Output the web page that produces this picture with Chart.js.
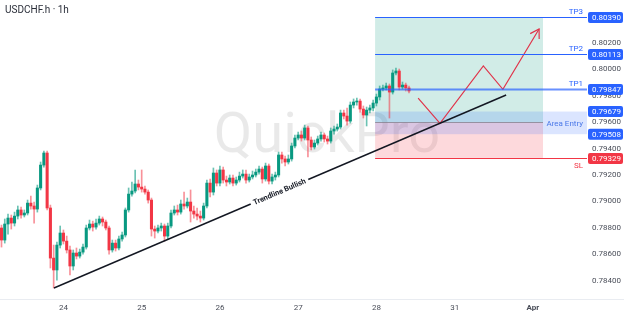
<!DOCTYPE html>
<html>
<head>
<meta charset="utf-8">
<script src="https://cdn.jsdelivr.net/npm/chart.js@4"></script>
<style>
  html, body { margin: 0; padding: 0; background: #fff; }
  #wrap { width: 624px; height: 316px; position: relative; }
</style>
</head>
<body>
<div id="wrap"><canvas id="chart"></canvas></div>
<script>
// ============================================================
// DATA  (USDCHF.h, 1h candles, index 0 = Fri 21 evening)
// ============================================================

const open = [
  0.78800,0.78709,0.78830,0.78875,0.78837,0.78890,0.78936,0.78898,0.78913,0.78988,
  0.78966,0.78943,0.79102,0.79275,0.79366,0.78951,0.78573,0.78483,0.78671,0.78762,
  0.78701,0.78634,0.78513,0.78611,0.78588,0.78618,0.78656,0.78800,0.78830,0.78807,
  0.78837,0.78868,0.78845,0.78800,0.78634,0.78686,0.78649,0.78717,0.78747,0.78936,
  0.79056,0.79079,0.79132,0.79109,0.79094,0.79071,0.79011,0.78792,0.78777,0.78800,
  0.78815,0.78739,0.78815,0.78913,0.78936,0.78920,0.78981,0.78966,0.78996,0.78928,
  0.78905,0.78890,0.78875,0.78966,0.79139,0.79071,0.79215,0.79139,0.79238,0.79162,
  0.79147,0.79177,0.79139,0.79162,0.79192,0.79207,0.79162,0.79185,0.79200,0.79222,
  0.79245,0.79170,0.79268,0.79154,0.79185,0.79200,0.79351,0.79321,0.79298,0.79321,
  0.79419,0.79479,0.79502,0.79479,0.79555,0.79464,0.79411,0.79441,0.79472,0.79502,
  0.79472,0.79456,0.79532,0.79547,0.79562,0.79668,0.79645,0.79607,0.79728,0.79751,
  0.79758,0.79698,0.79653,0.79690,0.79706,0.79743,0.79789,0.79849,0.79857,0.79872,
  0.79826,0.79970,0.79985,0.79864,0.79879,0.79857
];
const high = [
  0.78822,0.78868,0.78905,0.78898,0.78920,0.78966,0.78958,0.78936,0.79011,0.79041,
  0.78996,0.79124,0.79298,0.79381,0.79381,0.78973,0.78671,0.78694,0.78815,0.78785,
  0.78739,0.78664,0.78634,0.78649,0.78641,0.78679,0.78822,0.78860,0.78852,0.78868,
  0.78890,0.78883,0.78860,0.78815,0.78709,0.78709,0.78739,0.78769,0.78951,0.79102,
  0.79147,0.79238,0.79162,0.79238,0.79117,0.79087,0.79026,0.78815,0.78822,0.78837,
  0.78830,0.78837,0.78936,0.78966,0.78973,0.79011,0.79071,0.79026,0.79087,0.78966,
  0.78951,0.78928,0.78988,0.79162,0.79170,0.79253,0.79238,0.79268,0.79260,0.79192,
  0.79200,0.79200,0.79185,0.79222,0.79238,0.79238,0.79207,0.79230,0.79245,0.79268,
  0.79260,0.79290,0.79283,0.79207,0.79222,0.79373,0.79373,0.79343,0.79351,0.79441,
  0.79502,0.79524,0.79532,0.79577,0.79570,0.79487,0.79464,0.79494,0.79524,0.79517,
  0.79494,0.79555,0.79570,0.79585,0.79690,0.79690,0.79706,0.79751,0.79774,0.79781,
  0.79774,0.79721,0.79713,0.79728,0.79766,0.79811,0.79872,0.79879,0.79894,0.79887,
  0.79993,0.80008,0.80000,0.79902,0.79894,0.79872
];
const low = [
  0.78656,0.78686,0.78754,0.78792,0.78815,0.78868,0.78875,0.78883,0.78898,0.78943,
  0.78837,0.78920,0.79087,0.79260,0.78936,0.78498,0.78347,0.78407,0.78649,0.78679,
  0.78611,0.78445,0.78483,0.78566,0.78573,0.78603,0.78641,0.78785,0.78777,0.78792,
  0.78822,0.78815,0.78785,0.78603,0.78618,0.78626,0.78634,0.78701,0.78732,0.78920,
  0.79041,0.79064,0.79087,0.79071,0.79056,0.78988,0.78739,0.78724,0.78762,0.78777,
  0.78701,0.78717,0.78800,0.78898,0.78898,0.78905,0.78943,0.78951,0.78845,0.78875,
  0.78860,0.78845,0.78860,0.78951,0.79034,0.79049,0.79117,0.79117,0.79139,0.79117,
  0.79132,0.79117,0.79124,0.79147,0.79177,0.79139,0.79147,0.79170,0.79185,0.79207,
  0.79139,0.79154,0.79132,0.79132,0.79162,0.79185,0.79290,0.79268,0.79283,0.79305,
  0.79404,0.79464,0.79456,0.79464,0.79336,0.79389,0.79396,0.79426,0.79456,0.79449,
  0.79434,0.79441,0.79509,0.79532,0.79547,0.79623,0.79577,0.79592,0.79706,0.79728,
  0.79675,0.79630,0.79570,0.79668,0.79683,0.79721,0.79766,0.79834,0.79842,0.79630,
  0.79811,0.79955,0.79842,0.79849,0.79834,0.79819
];
const close = [
  0.78709,0.78830,0.78875,0.78837,0.78890,0.78936,0.78898,0.78913,0.78988,0.78966,
  0.78943,0.79102,0.79275,0.79366,0.78951,0.78573,0.78483,0.78671,0.78762,0.78701,
  0.78634,0.78513,0.78611,0.78588,0.78618,0.78656,0.78800,0.78830,0.78807,0.78837,
  0.78868,0.78845,0.78800,0.78634,0.78686,0.78649,0.78717,0.78747,0.78936,0.79056,
  0.79079,0.79132,0.79109,0.79094,0.79071,0.79011,0.78792,0.78777,0.78800,0.78815,
  0.78739,0.78815,0.78913,0.78936,0.78920,0.78981,0.78966,0.78996,0.78928,0.78905,
  0.78890,0.78875,0.78966,0.79139,0.79071,0.79215,0.79139,0.79238,0.79162,0.79147,
  0.79177,0.79139,0.79162,0.79192,0.79207,0.79162,0.79185,0.79200,0.79222,0.79245,
  0.79170,0.79268,0.79154,0.79185,0.79200,0.79351,0.79321,0.79298,0.79321,0.79419,
  0.79479,0.79502,0.79479,0.79555,0.79464,0.79411,0.79441,0.79472,0.79502,0.79472,
  0.79456,0.79532,0.79547,0.79562,0.79668,0.79645,0.79607,0.79728,0.79751,0.79758,
  0.79698,0.79653,0.79690,0.79706,0.79743,0.79789,0.79849,0.79857,0.79872,0.79826,
  0.79970,0.79985,0.79864,0.79879,0.79857,0.79834
];

// time axis: candle index of each day start
const dayTicks  = [19, 43, 67, 91, 115, 139, 163];
const dayLabels = ["24", "25", "26", "27", "28", "31", "Apr"];

const priceTicks = [0.784, 0.786, 0.788, 0.790, 0.792, 0.794, 0.796, 0.798, 0.800, 0.802];

// trade plan
const levelNames  = ["TP3", "TP2", "TP1", "SL"];
const levelPrices = [0.80390, 0.80113, 0.79847, 0.79329];
const entryPrice  = 0.79600;
const areaEntry   = [0.79508, 0.79679];
const zoneRange   = [114.6, 166.1];

const trendX = [16.1, 154.8];
const trendY = [0.78347, 0.79804];
const pathX  = [127.8, 134.5, 147.8, 153.8, 164.9];
const pathY  = [0.79781, 0.79590, 0.80023, 0.79847, 0.80302];


// ============================================================
// STYLE
// ============================================================

const UP   = "#089981";
const DOWN = "#f23645";
const BLUE = "#2962ff";

Chart.defaults.font.family = "Roboto, 'Noto Sans', sans-serif";
Chart.defaults.animation = false;

const isUp = close.map((c, i) => c >= open[i]);


// ============================================================
// OVERLAY PLUGIN
// ============================================================

function priceBox(ctx, a, py, price, color) {
  ctx.fillStyle = color;
  ctx.beginPath();
  ctx.roundRect(a.right + 1, py - 5.5, 35, 11, 2);
  ctx.fill();
  ctx.fillStyle = "#fff";
  ctx.font = "8px Roboto";
  ctx.textAlign = "left";
  ctx.textBaseline = "middle";
  ctx.fillText(price.toFixed(5), a.right + 5, py + 0.5);
}

const overlay = {
  id: "overlay",
  beforeDatasetsDraw(chart) {
    const { ctx, chartArea: a, scales: { x, y } } = chart;
    ctx.save();

    // watermark
    ctx.font = "56px Roboto";
    ctx.fillStyle = "rgba(0,0,0,0.085)";
    ctx.textAlign = "center";
    ctx.textBaseline = "alphabetic";
    ctx.fillText("QuickPro", 327, 152);

    // long position zones
    const zx0 = x.getPixelForValue(zoneRange[0]);
    const zx1 = x.getPixelForValue(zoneRange[1]);
    const yTop = y.getPixelForValue(levelPrices[0]);
    const yEn  = y.getPixelForValue(entryPrice);
    const ySl  = y.getPixelForValue(levelPrices[3]);
    ctx.fillStyle = "rgba(8,153,129,0.19)";
    ctx.fillRect(zx0, yTop, zx1 - zx0, yEn - yTop);
    ctx.fillStyle = "rgba(242,54,69,0.19)";
    ctx.fillRect(zx0, yEn, zx1 - zx0, ySl - yEn);

    // area entry band
    const ya = y.getPixelForValue(areaEntry[1]);
    const yb = y.getPixelForValue(areaEntry[0]);
    ctx.fillStyle = "rgba(41,98,255,0.17)";
    ctx.fillRect(zx0, ya, a.right - zx0, yb - ya);

    ctx.strokeStyle = "rgba(120,123,134,0.7)";
    ctx.lineWidth = 1;
    ctx.beginPath();
    ctx.moveTo(zx0, Math.round(yEn) + 0.5);
    ctx.lineTo(zx1, Math.round(yEn) + 0.5);
    ctx.stroke();
    ctx.restore();
  },

  afterDatasetsDraw(chart) {
    const { ctx, chartArea: a, scales: { x, y } } = chart;
    const zx0 = x.getPixelForValue(zoneRange[0]);
    ctx.save();

    // bottom separator
    ctx.strokeStyle = "#e9ecf1";
    ctx.lineWidth = 1;
    ctx.beginPath();
    ctx.moveTo(0, a.bottom + 0.5);
    ctx.lineTo(chart.width, a.bottom + 0.5);
    ctx.stroke();

    // level lines + names + price boxes
    levelPrices.forEach((p, k) => {
      const col = k === 3 ? DOWN : BLUE;
      const py = Math.round(y.getPixelForValue(p)) + 0.5;
      ctx.strokeStyle = k === 2 ? "rgba(41,98,255,0.7)" : col;
      ctx.lineWidth = k === 2 ? 2 : 1;
      ctx.beginPath();
      ctx.moveTo(zx0, py);
      ctx.lineTo(a.right, py);
      ctx.stroke();

      ctx.fillStyle = col;
      ctx.font = "8px Roboto";
      ctx.textAlign = "right";
      ctx.textBaseline = k === 3 ? "top" : "bottom";
      ctx.fillText(levelNames[k], a.right - 4, k === 3 ? py + 3 : py - 2);

      priceBox(ctx, a, py, p, col);
    });

    // area entry label + boxes
    const ya = y.getPixelForValue(areaEntry[1]);
    const yb = y.getPixelForValue(areaEntry[0]);
    ctx.fillStyle = "#4a78e8";
    ctx.font = "8px Roboto";
    ctx.textAlign = "right";
    ctx.textBaseline = "middle";
    ctx.fillText("Area Entry", a.right - 4, (ya + yb) / 2 + 1);
    priceBox(ctx, a, ya, areaEntry[1], BLUE);
    priceBox(ctx, a, yb, areaEntry[0], BLUE);

    // arrow head on projected path
    const n = pathX.length;
    const tx = x.getPixelForValue(pathX[n - 1]), ty = y.getPixelForValue(pathY[n - 1]);
    const sx = x.getPixelForValue(pathX[n - 2]), sy = y.getPixelForValue(pathY[n - 2]);
    const back = Math.atan2(sy - ty, sx - tx);
    ctx.strokeStyle = "#e0344a";
    ctx.lineWidth = 1.2;
    ctx.beginPath();
    ctx.moveTo(tx + 10 * Math.cos(back - 0.55), ty + 10 * Math.sin(back - 0.55));
    ctx.lineTo(tx, ty);
    ctx.lineTo(tx + 10 * Math.cos(back + 0.55), ty + 10 * Math.sin(back + 0.55));
    ctx.stroke();

    // trendline label
    const x0 = x.getPixelForValue(trendX[0]), y0 = y.getPixelForValue(trendY[0]);
    const x1 = x.getPixelForValue(trendX[1]), y1 = y.getPixelForValue(trendY[1]);
    const cx = 279.5;
    const cy = y0 + (y1 - y0) * (cx - x0) / (x1 - x0);
    ctx.translate(cx, cy);
    ctx.rotate(Math.atan2(y1 - y0, x1 - x0));
    ctx.font = "bold 7.5px Roboto";
    const w = ctx.measureText("Trendline Bullish").width;
    ctx.fillStyle = "#fff";
    ctx.fillRect(-w / 2 - 3, -3, w + 6, 6);
    ctx.fillStyle = "#131722";
    ctx.textAlign = "center";
    ctx.textBaseline = "middle";
    ctx.fillText("Trendline Bullish", 0, 0.5);
    ctx.setTransform(1, 0, 0, 1, 0, 0);

    // title
    ctx.fillStyle = "#2a2e39";
    ctx.font = "10px Roboto";
    ctx.textAlign = "left";
    ctx.textBaseline = "middle";
    ctx.fillText("USDCHF.h \u00b7 1h", 5, 10.5);
    ctx.restore();
  }
};


// ============================================================
// CHART
// ============================================================

new Chart(document.getElementById("chart"), {
  type: "bar",
  data: {
    datasets: [
      {
        type: "line",
        data: trendX.map((v, i) => ({ x: v, y: trendY[i] })),
        borderColor: "#131722",
        borderWidth: 1.4,
        pointRadius: 0,
        order: 1,
      },
      {
        type: "line",
        data: pathX.map((v, i) => ({ x: v, y: pathY[i] })),
        borderColor: "#e0344a",
        borderWidth: 1.2,
        pointRadius: 0,
        tension: 0,
        order: 1,
      },
      {
        type: "bar",
        data: close.map((c, i) => ({ x: i, y: [open[i], c] })),
        backgroundColor: isUp.map(u => u ? UP : DOWN),
        barThickness: 2.4,
        minBarLength: 1,
        grouped: false,
        order: 2,
      },
      {
        type: "bar",
        data: close.map((c, i) => ({ x: i, y: [low[i], high[i]] })),
        backgroundColor: isUp.map(u => u ? "rgba(8,153,129,0.6)" : "rgba(242,54,69,0.55)"),
        barThickness: 1,
        grouped: false,
        order: 3,
      },
    ]
  },
  options: {
    responsive: true,
    maintainAspectRatio: false,
    layout: { padding: 0 },
    plugins: {
      legend: { display: false },
      tooltip: { enabled: false },
    },
    scales: {
      x: {
        type: "linear",
        offset: false,
        min: -0.46,
        max: 179.6,
        afterBuildTicks: s => { s.ticks = dayTicks.map(v => ({ value: v })); },
        afterFit: s => { s.height = 17; s.paddingLeft = 0; s.paddingRight = 0; },
        grid: { display: false, drawTicks: false },
        border: { display: false },
        ticks: {
          autoSkip: false,
          maxRotation: 0,
          padding: 4,
          color: "#4a4e59",
          font: c => ({ size: 8, weight: c.tick && c.tick.value === dayTicks[6] ? "bold" : "normal" }),
          callback: v => dayLabels[dayTicks.indexOf(v)] ?? "",
        },
      },
      y: {
        position: "right",
        min: 0.78264,
        max: 0.80521,
        afterBuildTicks: s => { s.ticks = priceTicks.map(v => ({ value: v })); },
        afterFit: s => { s.width = 37; s.paddingTop = 0; s.paddingBottom = 0; },
        grid: { display: false, drawTicks: false },
        border: { display: false },
        ticks: {
          padding: 5,
          color: "#4a4e59",
          font: { size: 8 },
          callback: v => v.toFixed(5),
        },
      },
    },
  },
  plugins: [overlay],
});
</script>
</body>
</html>
